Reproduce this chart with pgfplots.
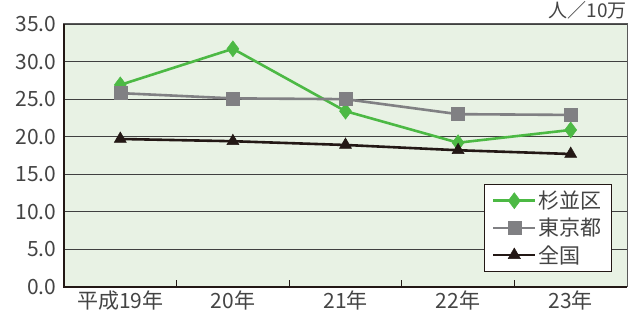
\documentclass[border=0pt]{standalone}
\usepackage{pgfplots}
\pgfplotsset{compat=1.18}
\usepackage{fontspec}
\setmainfont{Noto Sans CJK JP}
\definecolor{bgc}{HTML}{E8F2E4}
\definecolor{sgreen}{HTML}{4CB944}
\definecolor{tgray}{HTML}{808083}
\definecolor{kblack}{HTML}{231815}
\definecolor{txt}{HTML}{444444}
\begin{document}
\begin{tikzpicture}
\useasboundingbox (-64pt,-28pt) rectangle (567pt,287pt);
\begin{axis}[
  scale only axis, width=563pt, height=263pt,
  xmin=-0.5, xmax=4.5, ymin=0, ymax=35,
  axis background/.style={fill=bgc},
  axis line style={draw=gray!70!black, line width=1pt},
  xtick={0,1,2,3,4},
  xticklabels={平成19年,20年,21年,22年,23年},
  major x tick style={draw=none},
  minor xtick={0.5,1.5,2.5,3.5},
  minor tick length=7pt,
  minor x tick style={draw=kblack, line width=1pt},
  xtick pos=bottom, tick align=inside,
  ytick={0,5,...,35},
  major y tick style={draw=none},
  ymajorgrids, grid style={draw=gray!50!black, line width=1.1pt},
  yticklabel={\pgfmathprintnumber[fixed,fixed zerofill,precision=1]{\tick}},
  /pgf/number format/assume math mode=true,
  ticklabel style={font=\fontsize{21}{22}\selectfont, text=txt},
  xticklabel style={yshift=0pt},
  yticklabel style={xshift=-4pt},
  legend style={at={(rel axis cs:1,0)}, anchor=south east, xshift=-15pt, yshift=15pt,
    font=\fontsize{21}{22}\selectfont, text=txt, draw=kblack, line width=0.8pt,
    row sep=4pt, inner xsep=8pt, inner ysep=5pt},
  legend cell align=left,
  legend image code/.code={\draw[#1] (0pt,0pt) -- (42pt,0pt); \draw[#1, mark repeat=2, mark phase=2] plot coordinates {(0pt,0pt) (21pt,0pt) (42pt,0pt)};},
  clip=false,
]
\addplot[color=sgreen, line width=2.6pt, mark=diamond*, mark size=8pt, mark options={solid, line width=0.5pt, fill=sgreen}]
  coordinates {(0,26.9) (1,31.7) (2,23.4) (3,19.2) (4,20.9)};
\addlegendentry{杉並区}
\addplot[color=tgray, line width=2.6pt, mark=square*, mark size=6.5pt, mark options={solid, line width=0.5pt, fill=tgray}]
  coordinates {(0,25.8) (1,25.1) (2,25.0) (3,23.0) (4,22.9)};
\addlegendentry{東京都}
\addplot[color=kblack, line width=2.6pt, mark=triangle*, mark size=7pt, mark options={solid, line width=0.5pt, fill=kblack}]
  coordinates {(0,19.7) (1,19.4) (2,18.9) (3,18.2) (4,17.7)};
\addlegendentry{全国}
\draw[kblack, line width=2pt] (rel axis cs:0,1) -- (rel axis cs:0,0) -- (rel axis cs:1,0);
\node[anchor=south east, font=\fontsize{19}{20}\selectfont, text=txt, inner sep=0pt] at ([yshift=5pt]rel axis cs:1,1) {人／10万};
\end{axis}
\end{tikzpicture}
\end{document}
